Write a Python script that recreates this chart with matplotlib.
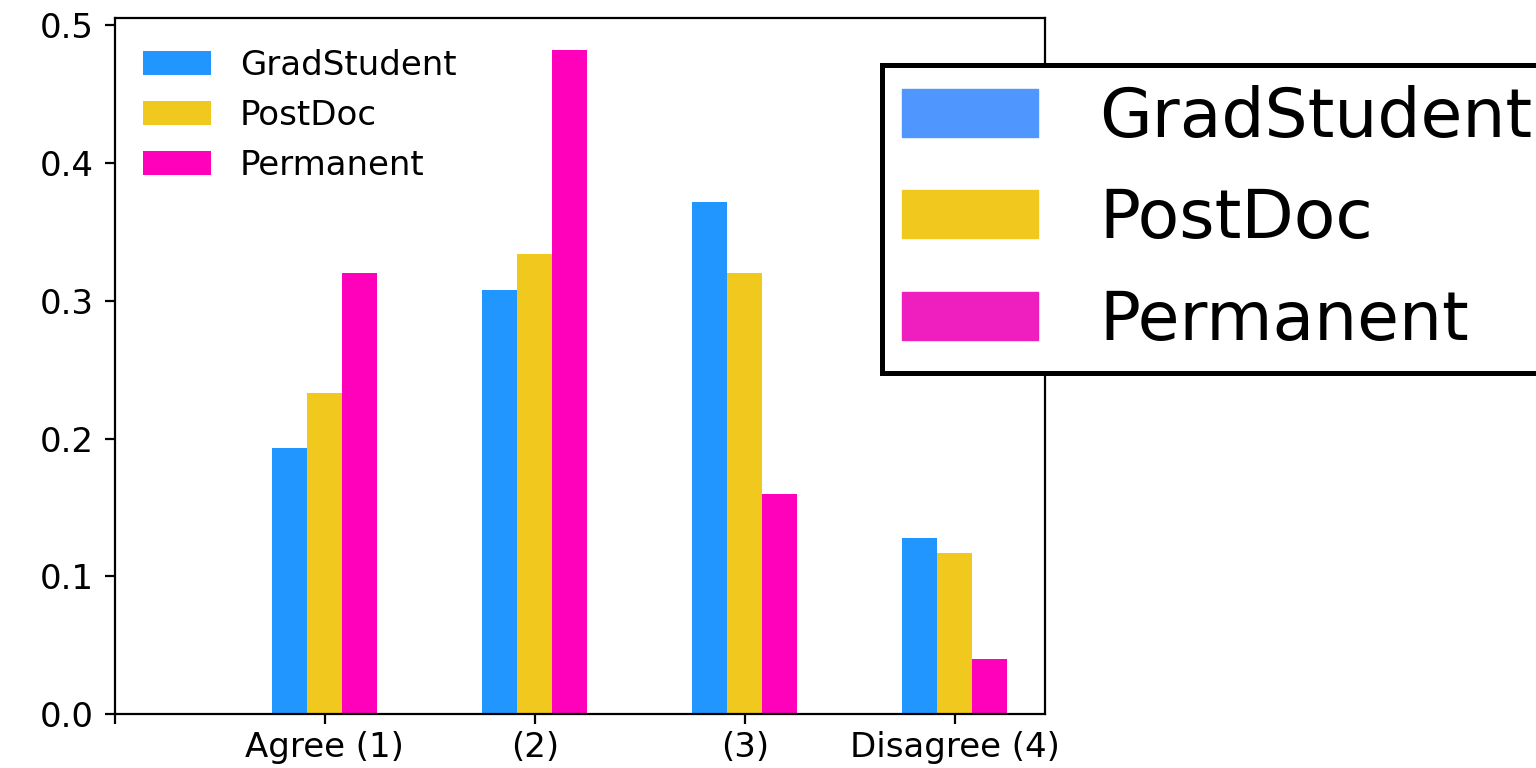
import matplotlib
matplotlib.use("Agg")
import matplotlib.pyplot as plt
from matplotlib.patches import Patch
import numpy as np

categories = ["", "Agree (1)", "(2)", "(3)", "Disagree (4)"]
series_names = ["GradStudent", "PostDoc", "Permanent"]
grad = [0.0, 0.193, 0.308, 0.372, 0.128]
postdoc = [0.0, 0.233, 0.334, 0.320, 0.117]
permanent = [0.0, 0.320, 0.482, 0.160, 0.040]
colors = ["#2196FF", "#F0C81E", "#FF00BB"]
big_legend_colors = ["#4F97FF", "#F0C81E", "#EE1EBF"]

plt.rcParams["font.family"] = ["DejaVu Sans"]
fig = plt.figure(figsize=(15.36, 7.68), dpi=100)
ax = fig.add_axes([115 / 1536, 1 - 714 / 768, (1045 - 115) / 1536, (714 - 18) / 768])

x = np.arange(len(categories))
w = 1 / 6
for i, (vals, name) in enumerate(zip([grad, postdoc, permanent], series_names)):
    ax.bar(x + (i - 1) * w, vals, width=w, color=colors[i], label=name)

ax.set_xticks(x)
ax.set_xticklabels(categories)
ax.set_xlim(0, 4.43)
ax.set_ylim(0, 0.5053)
ax.set_yticks([0.0, 0.1, 0.2, 0.3, 0.4, 0.5])
ax.tick_params(labelsize=24.5, length=7.5, width=1.6)
ax.tick_params(axis="x", pad=5)
ax.tick_params(axis="y", pad=8)
for s in ax.spines.values():
    s.set_linewidth(1.6)

ax.legend(loc="upper left", frameon=False, fontsize=24.5,
          bbox_to_anchor=(-0.003, 1.0), handletextpad=0.85)

handles = [Patch(color=c) for c in big_legend_colors]
leg = fig.legend(handles, series_names, loc="upper left",
                 bbox_to_anchor=(882 / 1536, 1 - 65 / 768),
                 bbox_transform=fig.transFigure, borderaxespad=0,
                 borderpad=0.29, labelspacing=0.52, handletextpad=0.9,
                 fontsize=49, frameon=True, fancybox=False,
                 edgecolor="black", framealpha=1)
leg.get_frame().set_linewidth(3.6)

fig.savefig("out.png", dpi=100)
